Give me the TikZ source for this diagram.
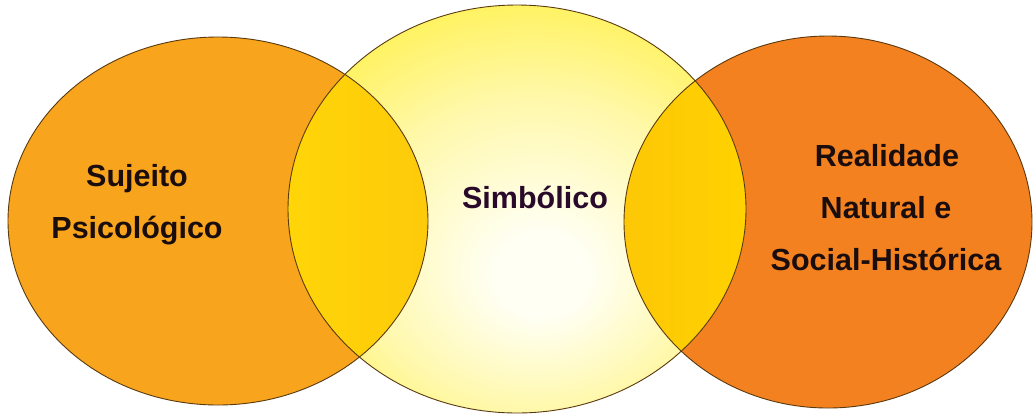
\documentclass[tikz,border=0pt]{standalone}
\usepackage{fontspec}
\setmainfont{Liberation Sans}
\definecolor{leftorange}{HTML}{F8A41C}
\definecolor{rightorange}{HTML}{F3811F}
\definecolor{midyellow}{HTML}{FFF045}
\definecolor{midcenter}{HTML}{FFFFF4}
\definecolor{ovgold}{HTML}{FFD508}
\definecolor{ovdark}{HTML}{F8B20F}
\definecolor{ovrdark}{HTML}{F8A915}
\definecolor{ovrgold}{HTML}{FFD200}
\definecolor{edgecol}{HTML}{5A3A10}
\definecolor{txtcol}{HTML}{1A0D0D}
\definecolor{symcol}{HTML}{2A0A2A}
\pgfdeclareradialshading{midshade}{\pgfpoint{3bp}{-9bp}}{%
  color(0bp)=(midcenter); color(5bp)=(midcenter); color(19bp)=(midyellow!45!white);
  color(33bp)=(midyellow); color(50bp)=(midyellow)}
\tikzset{
  outline/.style={draw=edgecol, line width=0.9pt},
  lbl/.style={font=\bfseries\fontsize{30.5}{30.5}\selectfont, text=txtcol, inner sep=0pt, anchor=center},
}
\begin{document}
\begin{tikzpicture}[x=1pt,y=-1pt]
\useasboundingbox (0,0) rectangle (1034,416);
\fill[white] (0,0) rectangle (1034,416);
% left ellipse
\fill[leftorange] (218,221) ellipse [x radius=210pt, y radius=184pt];
% right ellipse
\fill[rightorange] (828,222) ellipse [x radius=204pt, y radius=186pt];
% middle ellipse
\shade[shading=midshade] (517,209) ellipse [x radius=229pt, y radius=204pt];
% left overlap
\begin{scope}
  \clip (218,221) ellipse [x radius=210pt, y radius=184pt];
  \shade[left color=ovgold, right color=ovdark] (517,209) ellipse [x radius=229pt, y radius=204pt];
\end{scope}
% right overlap
\begin{scope}
  \clip (828,222) ellipse [x radius=204pt, y radius=186pt];
  \shade[left color=ovrdark, right color=ovrgold] (517,209) ellipse [x radius=229pt, y radius=204pt];
\end{scope}
% outlines
\draw[outline] (218,221) ellipse [x radius=210pt, y radius=184pt];
\draw[outline] (828,222) ellipse [x radius=204pt, y radius=186pt];
\draw[outline] (517,209) ellipse [x radius=229pt, y radius=204pt];
% labels
\node[lbl] (suj) at (137,179) {Sujeito};
\node[lbl] (psi) at (137,231) {Psicológico};
\node[lbl, text=symcol] (sim) at (535,197) {Simbólico};
\node[lbl] (rea) at (887,156) {Realidade};
\node[lbl] (nat) at (886,208) {Natural e};
\node[lbl] (soc) at (886,259) {Social-Histórica};
\end{tikzpicture}
\end{document}
